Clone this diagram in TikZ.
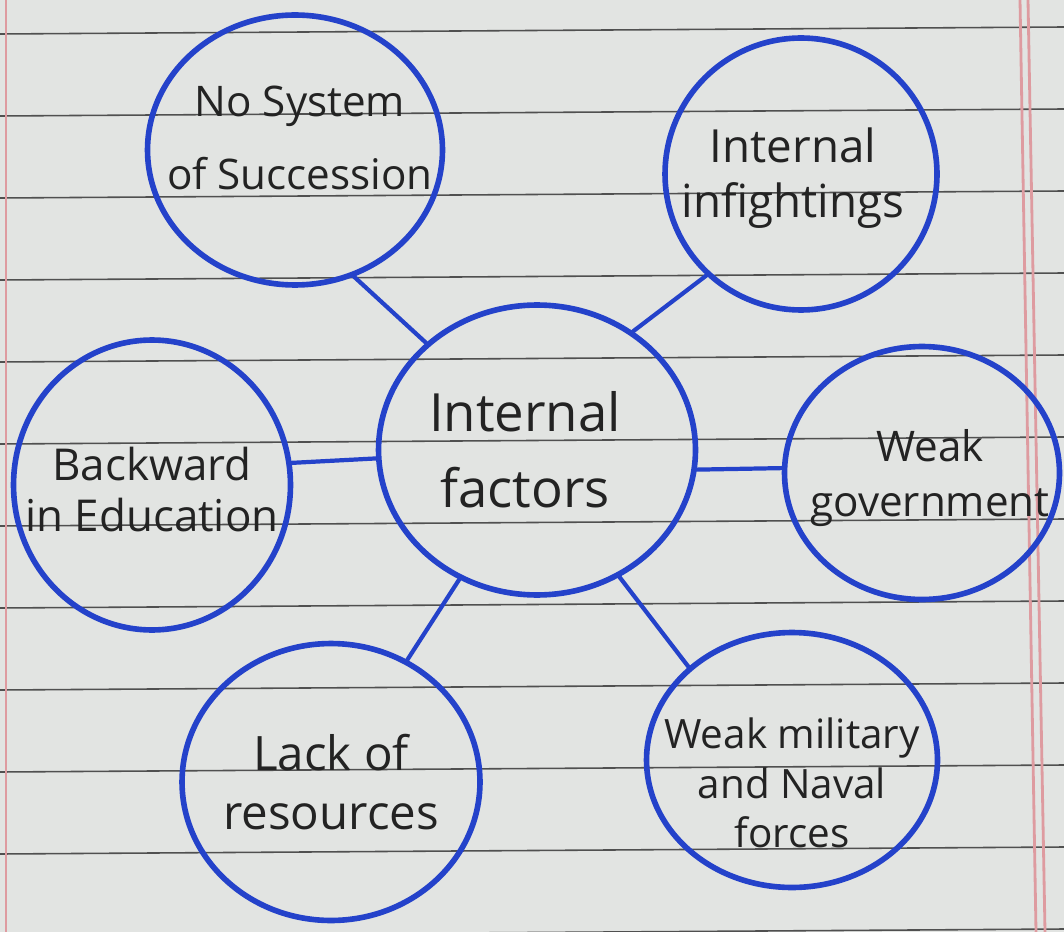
\documentclass[tikz,border=0pt]{standalone}
\usepackage{fontspec}
\setmainfont{Open Sans}
\usetikzlibrary{shapes.geometric}
\definecolor{paper}{RGB}{226,228,226}
\definecolor{ruling}{RGB}{80,80,80}
\definecolor{redline}{RGB}{222,155,160}
\definecolor{ink}{RGB}{36,66,202}
\definecolor{pencil}{RGB}{35,35,35}

\begin{document}
\begin{tikzpicture}[x=0.02cm, y=-0.02cm,
  factor/.style={ellipse, draw=ink, line width=3.2pt, inner sep=0pt},
  words/.style={text=pencil, align=center},
  spoke/.style={draw=ink, line width=2.4pt, line cap=round}]
\useasboundingbox (0,0) rectangle (1064,932);
\fill[paper] (0,0) rectangle (1064,932);
\foreach \k in {0,...,11}
  \draw[ruling, line width=0.9pt] (0,34+82*\k) -- (1064,27+82*\k);
\draw[redline, line width=1.6pt] (6,0) -- (6,932);
\draw[redline, line width=1.6pt] (1020,0) -- (1036,932);
\draw[redline, line width=1.6pt] (1028,0) -- (1045,932);

\node[factor, minimum width=6.34cm, minimum height=5.8cm,
  label={[words, font=\fontsize{30}{43}\selectfont, xshift=-0.24cm]center:{Internal\\factors}}]
  (core) at (537,450) {};
\node[factor, minimum width=5.9cm, minimum height=5.4cm,
  label={[words, font=\fontsize{24}{42}\selectfont, xshift=0.1cm, yshift=0.24cm]center:{No System\\of Succession}}]
  (succession) at (295,150) {};
\node[factor, minimum width=5.44cm, minimum height=5.44cm,
  label={[words, font=\fontsize{26}{31}\selectfont, xshift=-0.16cm, yshift=-0.08cm]center:{Internal\\infightings}}]
  (infight) at (801,174) {};
\node[factor, minimum width=5.54cm, minimum height=5.8cm,
  label={[words, font=\fontsize{25}{29}\selectfont, yshift=-0.1cm]center:{Backward\\in Education}}]
  (education) at (152,485) {};
\node[factor, minimum width=5.5cm, minimum height=5.06cm,
  label={[words, font=\fontsize{24}{31}\selectfont, xshift=0.16cm, yshift=-0.1cm]center:{Weak\\government}}]
  (government) at (922,473) {};
\node[factor, minimum width=5.96cm, minimum height=5.54cm,
  label={[words, font=\fontsize{27}{34}\selectfont]center:{Lack of\\resources}}]
  (resources) at (331,782) {};
\node[factor, minimum width=5.82cm, minimum height=5.1cm,
  label={[words, font=\fontsize{23}{28}\selectfont, yshift=-0.46cm]center:{Weak military\\and Naval\\forces}}]
  (forces) at (792,760) {};

\draw[spoke] (core.136) -- (succession.295);
\draw[spoke] (core.51) -- (infight.227);
\draw[spoke] (core.183) -- (education.9);
\draw[spoke] (core.353) -- (government.178);
\draw[spoke] (core.239) -- (resources.58);
\draw[spoke] (core.303) -- (forces.138);
\end{tikzpicture}
\end{document}
